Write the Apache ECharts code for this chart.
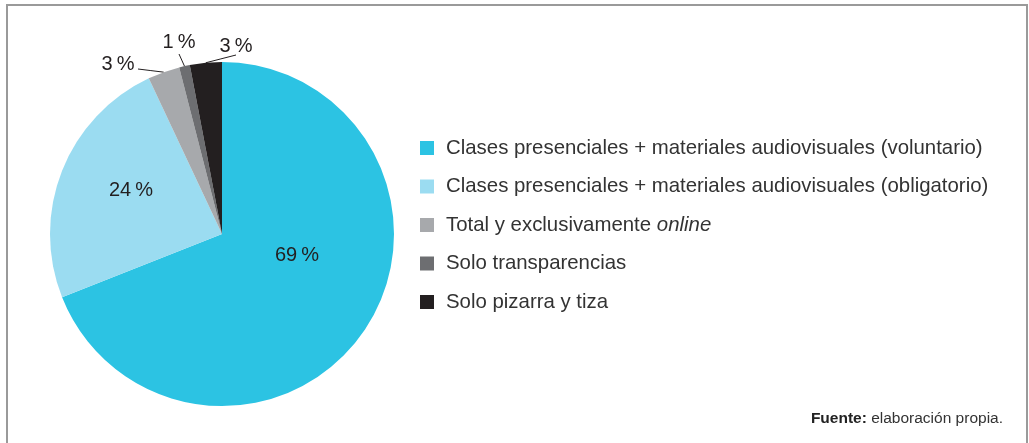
<!DOCTYPE html>
<html>
<head>
<meta charset="utf-8">
<script src="https://cdn.jsdelivr.net/npm/echarts@6/dist/echarts.min.js"></script>
<style>
html, body { margin: 0; padding: 0; background: #fff; }
#chart { width: 1029px; height: 443px; }
</style>
</head>
<body>
<div id="chart"></div>
<script>
// datos del gráfico
var categories = [
  'Clases presenciales + materiales audiovisuales (voluntario)',
  'Clases presenciales + materiales audiovisuales (obligatorio)',
  'Total y exclusivamente online',
  'Solo transparencias',
  'Solo pizarra y tiza'
];
var values = [69, 24, 3, 1, 3];
var colors = ['#2cc3e3', '#9bdcf1', '#a7a9ac', '#6d6e71', '#231f20'];
var sourceText = 'elaboración propia.';

// posiciones de las etiquetas (solo estilo)
var labelPos = [[297, 255], [131, 190], [118, 64], [179, 42], [236, 46]];
var lineEnd = [null, null, [138, 69], [179, 54], [236, 55]];

var myChart = echarts.init(document.getElementById('chart'));
var font = '"Liberation Sans", Arial, sans-serif';

var option = {
  animation: false,
  color: colors,
  textStyle: { fontFamily: font },
  graphic: [{
    type: 'rect',
    shape: { x: 7, y: 5, width: 1020, height: 460 },
    style: { fill: 'none', stroke: '#9a9a9a', lineWidth: 2 },
    silent: true
  }],
  title: {
    text: '{b|Fuente:} ' + sourceText,
    right: 21,
    top: 406,
    textStyle: {
      fontFamily: font,
      fontSize: 15.5,
      fontWeight: 'normal',
      color: '#333',
      rich: { b: { fontFamily: font, fontSize: 15.5, fontWeight: 'bold', color: '#222' } }
    }
  },
  legend: {
    orient: 'vertical',
    left: 420,
    top: 138,
    padding: 0,
    icon: 'rect',
    itemWidth: 14,
    itemHeight: 14,
    itemGap: 18.5,
    data: categories,
    formatter: function (name) {
      return name.replace('online', '{i|online}');
    },
    textStyle: {
      fontFamily: font,
      fontSize: 20.4,
      color: '#333',
      padding: [0, 0, 0, 7],
      rich: { i: { fontFamily: font, fontSize: 20.4, fontStyle: 'italic', color: '#333' } }
    }
  },
  series: [{
    type: 'pie',
    center: [222, 234],
    radius: 172,
    startAngle: 90,
    clockwise: true,
    avoidLabelOverlap: false,
    data: categories.map(function (c, i) {
      return { name: c, value: values[i] };
    }),
    label: {
      show: true,
      formatter: function (p) { return p.value + '\u2009%'; },
      fontFamily: font,
      fontSize: 20,
      color: '#231f20'
    },
    labelLine: {
      show: true,
      length: 8,
      length2: 8,
      lineStyle: { color: '#231f20', width: 1 }
    },
    labelLayout: function (params) {
      var i = params.dataIndex;
      var res = { x: labelPos[i][0], y: labelPos[i][1], align: 'center', verticalAlign: 'middle' };
      if (lineEnd[i] && params.labelLinePoints) {
        var p0 = params.labelLinePoints[0];
        var e = lineEnd[i];
        res.labelLinePoints = [p0, [(p0[0] + e[0]) / 2, (p0[1] + e[1]) / 2], e];
      }
      return res;
    },
    emphasis: { disabled: true }
  }]
};

// las dos primeras etiquetas van dentro, sin línea
option.series[0].data[0].labelLine = { show: false };
option.series[0].data[1].labelLine = { show: false };

myChart.setOption(option);
</script>
</body>
</html>
